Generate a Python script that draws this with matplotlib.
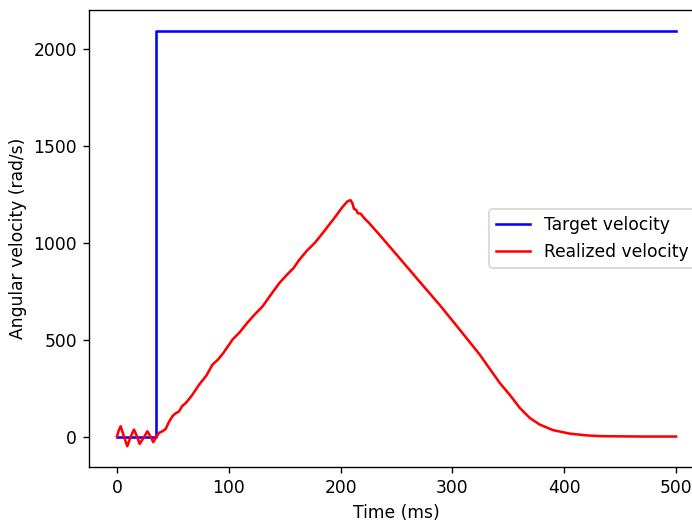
import matplotlib
matplotlib.use("Agg")
import matplotlib.pyplot as plt

DPI = 123

# target velocity step (rad/s)
target_time = [0, 34.8, 34.8, 500]
target_velocity = [0, 0, 2094.4, 2094.4]

# realized velocity
realized_time = [0, 1.5, 3.3, 6, 9.2, 12, 15.2, 18, 20.3, 24, 27.2, 30, 32.5, 35,
                 37.6, 40, 43.6, 46, 49.6, 52, 55.6, 58, 61.5, 64, 67.5, 73.5, 80,
                 85.4, 90, 95, 103.3, 110, 117, 124.3, 130, 138, 145.2, 152, 158,
                 163, 170, 177, 184, 190, 196, 201, 204, 206.4, 208.8, 210.5, 212,
                 213.9, 215.4, 218, 221, 225, 235, 252.7, 270.6, 288.5, 306.5,
                 324.4, 342.3, 352, 360.2, 369.2, 378, 390, 405, 420, 432, 450,
                 470, 500]
realized_velocity = [0, 30, 53, 5, -50, -5, 36, 0, -38, -5, 27, 0, -29, -5,
                     19, 25, 39, 70, 105, 118, 130, 155, 173, 190, 216, 268, 315,
                     371, 395, 430, 500, 540, 590, 637, 670, 735, 792, 835, 870,
                     912, 960, 1000, 1050, 1095, 1140, 1180, 1200, 1215, 1220, 1205, 1175,
                     1170, 1153, 1150, 1128, 1105, 1040, 921, 800, 680, 552,
                     423, 277, 210, 148, 96, 62, 33, 15, 6, 2, 1,
                     0, 0]

fig = plt.figure(figsize=(692 / DPI, 520 / DPI), dpi=DPI)
ax = fig.add_axes([89 / 692, 53 / 520, 615 / 692, 457 / 520])

ax.plot(target_time, target_velocity, color="blue", label="Target velocity")
ax.plot(realized_time, realized_velocity, color="red", label="Realized velocity")

ax.set_xlabel("Time (ms)")
ax.set_ylabel("Angular velocity (rad/s)")
ax.legend(loc="center right")

fig.savefig("out.png", dpi=DPI)
